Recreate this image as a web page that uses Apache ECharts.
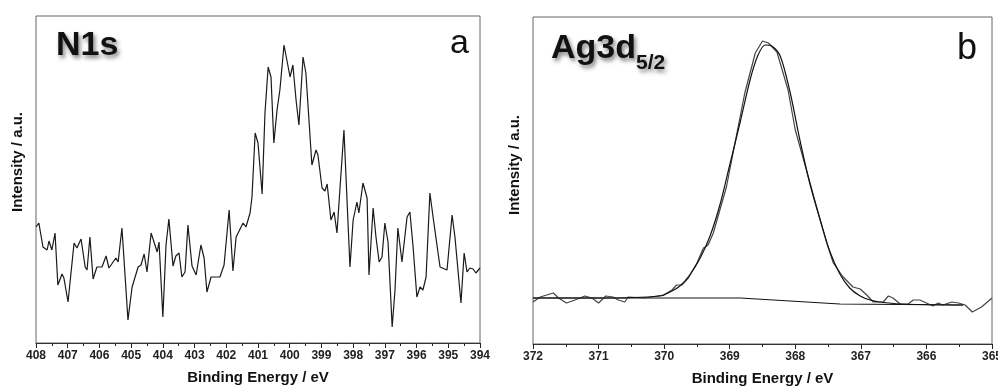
<!DOCTYPE html>
<html><head><meta charset="utf-8">
<script src="https://cdn.jsdelivr.net/npm/echarts@6/dist/echarts.min.js"></script>
<style>html,body{margin:0;padding:0;background:#fff}#c{width:998px;height:392px}</style>
</head><body><div id="c"></div>
<script>
// Panel a: N1s spectrum
const energyA = [408.00,407.91,407.78,407.65,407.59,407.50,407.40,407.31,407.18,407.12,406.99,406.80,406.71,406.58,406.45,406.39,406.30,406.20,406.08,405.92,405.79,405.70,405.48,405.41,405.29,405.10,404.97,404.91,404.78,404.69,404.59,404.50,404.37,404.31,404.18,404.12,404.00,403.90,403.81,403.68,403.59,403.49,403.40,403.30,403.21,403.08,402.95,402.89,402.80,402.70,402.61,402.48,402.42,402.20,402.07,401.91,401.79,401.69,401.47,401.38,401.25,401.19,401.09,401.00,400.87,400.78,400.68,400.59,400.50,400.40,400.31,400.18,400.09,399.99,399.90,399.80,399.71,399.58,399.49,399.30,399.17,399.11,398.98,398.89,398.82,398.70,398.60,398.51,398.29,398.10,398.00,397.88,397.82,397.69,397.56,397.50,397.37,397.28,397.18,397.09,397.00,396.90,396.77,396.68,396.59,396.46,396.30,396.21,396.11,395.99,395.89,395.80,395.70,395.58,395.48,395.26,395.04,394.88,394.79,394.60,394.50,394.41,394.32,394.22,394.13,394.00];
const intensityA = [116,120,96,93,102,93,110,58,69,65,41,100,95,104,76,73,106,64,76,76,87,75,85,81,115,23,56,55,76,78,89,71,110,111,91,101,26,98,124,77,87,90,66,71,118,77,68,69,98,85,51,66,66,66,78,133,72,106,120,116,130,146,210,200,149,230,276,266,200,233,253,298,283,266,278,243,218,286,270,178,193,188,155,152,159,123,131,110,213,76,123,141,130,160,145,68,135,106,81,86,120,101,16,53,115,81,126,131,96,46,56,53,66,150,126,76,73,128,106,40,90,71,75,74,70,75];

// Panel b: Ag3d5/2 spectrum
const energyRawB = [372.00,371.89,371.69,371.61,371.49,371.36,371.21,371.10,371.00,370.89,370.78,370.70,370.60,370.55,370.29,370.01,369.88,369.81,369.73,369.63,369.50,369.40,369.33,369.25,369.05,368.89,368.77,368.61,368.50,368.41,368.28,368.11,368.00,367.83,367.65,367.52,367.42,367.27,367.12,367.01,366.91,366.81,366.66,366.58,366.51,366.40,366.28,366.20,366.10,366.00,365.90,365.82,365.75,365.61,365.51,365.41,365.30,365.16,365.00];
const intensityRawB = [42,47,51,46,41,44,48,46,41,48,47,44,42,47,46,49,54,59,59,66,81,96,99,111,157,211,251,291,303,301,292,254,214,174,131,101,81,67,57,55,49,42,42,48,46,40,40,44,44,41,38,41,39,42,41,39,32,37,46];
const energyFitB = [372.00,370.98,370.06,369.91,369.76,369.61,369.45,369.30,369.15,369.00,368.84,368.69,368.58,368.46,368.36,368.23,368.08,367.93,367.78,367.62,367.47,367.32,367.17,367.01,366.86,366.71,366.40,365.44];
const intensityFitB = [46,46,48,52,58,69,86,108,139,179,222,264,287,299,298,288,252,204,161,124,92,70,56,48,44,42,40,39];
const energyBgB = [372.00,368.84,367.32,365.44];
const intensityBgB = [46,46,40,39];

const ticksA = {min:394, max:408};
const ticksB = {min:365, max:372};

const pair = (xs, ys) => xs.map((x, i) => [x, ys[i]]);
const FONT = '"Liberation Sans", Arial, sans-serif';

function xAx(gi, rng) {
  return {
    gridIndex: gi, type: 'value', inverse: true, min: rng.min, max: rng.max, interval: 1,
    name: 'Binding Energy / eV', nameLocation: 'middle', nameGap: 27,
    nameTextStyle: {fontFamily: FONT, fontWeight: 'bold', fontSize: 15, color: '#111'},
    axisLine: {show: true, lineStyle: {color: '#333', width: 1}},
    axisTick: {show: true, length: 5, lineStyle: {color: '#222'}},
    minorTick: {show: true, splitNumber: 2, length: 3, lineStyle: {color: '#222'}},
    axisLabel: {fontFamily: FONT, fontWeight: 'bold', fontSize: 12, color: '#222', margin: 7, hideOverlap: false},
    splitLine: {show: false}, minorSplitLine: {show: false}
  };
}
function yAx(gi) {
  return {gridIndex: gi, type: 'value', min: 0, max: 327, show: true,
    axisLine: {show: false}, axisTick: {show: false}, axisLabel: {show: false}, splitLine: {show: false}};
}
const lineS = (xi, data, color, w) => ({
  type: 'line', xAxisIndex: xi, yAxisIndex: xi, data: data, showSymbol: false, symbol: 'none',
  lineStyle: {color: color, width: w || 1.2}, animation: false, silent: true
});
const titleShadow = {textShadowColor: 'rgba(0,0,0,0.5)', textShadowBlur: 4, textShadowOffsetX: 2, textShadowOffsetY: 3};

const chart = echarts.init(document.getElementById('c'), null, {renderer: 'canvas'});
chart.setOption({
  backgroundColor: '#fff',
  animation: false,
  grid: [
    {left: 36, top: 16, width: 444, height: 327, show: true, borderColor: '#666', borderWidth: 1, backgroundColor: 'transparent', containLabel: false, outerBoundsMode: 'none'},
    {left: 533, top: 17, width: 459, height: 327, show: true, borderColor: '#666', borderWidth: 1, backgroundColor: 'transparent', containLabel: false, outerBoundsMode: 'none'}
  ],
  xAxis: [xAx(0, ticksA), xAx(1, ticksB)],
  yAxis: [yAx(0), yAx(1)],
  series: [
    lineS(0, pair(energyA, intensityA), '#1a1a1a', 1.2),
    lineS(1, pair(energyBgB, intensityBgB), '#111', 1.2),
    lineS(1, pair(energyRawB, intensityRawB), '#444', 1.2),
    Object.assign(lineS(1, pair(energyFitB, intensityFitB), '#111', 1.2), {smooth: 0.3})
  ],
  graphic: [
    {type: 'text', left: 56, top: 29, style: Object.assign({text: 'N1s', font: 'bold 34px ' + FONT, fill: '#111'}, titleShadow)},
    {type: 'text', left: 450, top: 27, style: {text: 'a', font: '34px ' + FONT, fill: '#111'}},
    {type: 'text', left: 957, top: 31, style: {text: 'b', font: '36px ' + FONT, fill: '#111'}},
    {type: 'text', left: 551, top: 32, style: Object.assign({
      text: '{m|Ag3d}{s|5/2}', fill: '#111',
      rich: {m: {font: 'bold 34px ' + FONT, fill: '#111', verticalAlign: 'bottom'},
             s: {font: 'bold 21px ' + FONT, fill: '#111', verticalAlign: 'bottom', padding: [0,0,-8,0]}}
    }, titleShadow)},
    {type: 'text', x: 18, y: 162, rotation: Math.PI / 2,
      style: {text: 'Intensity / a.u.', font: 'bold 15px ' + FONT, fill: '#111', align: 'center', verticalAlign: 'middle'}},
    {type: 'text', x: 515, y: 165, rotation: Math.PI / 2,
      style: {text: 'Intensity / a.u.', font: 'bold 15px ' + FONT, fill: '#111', align: 'center', verticalAlign: 'middle'}}
  ]
});
</script></body></html>
